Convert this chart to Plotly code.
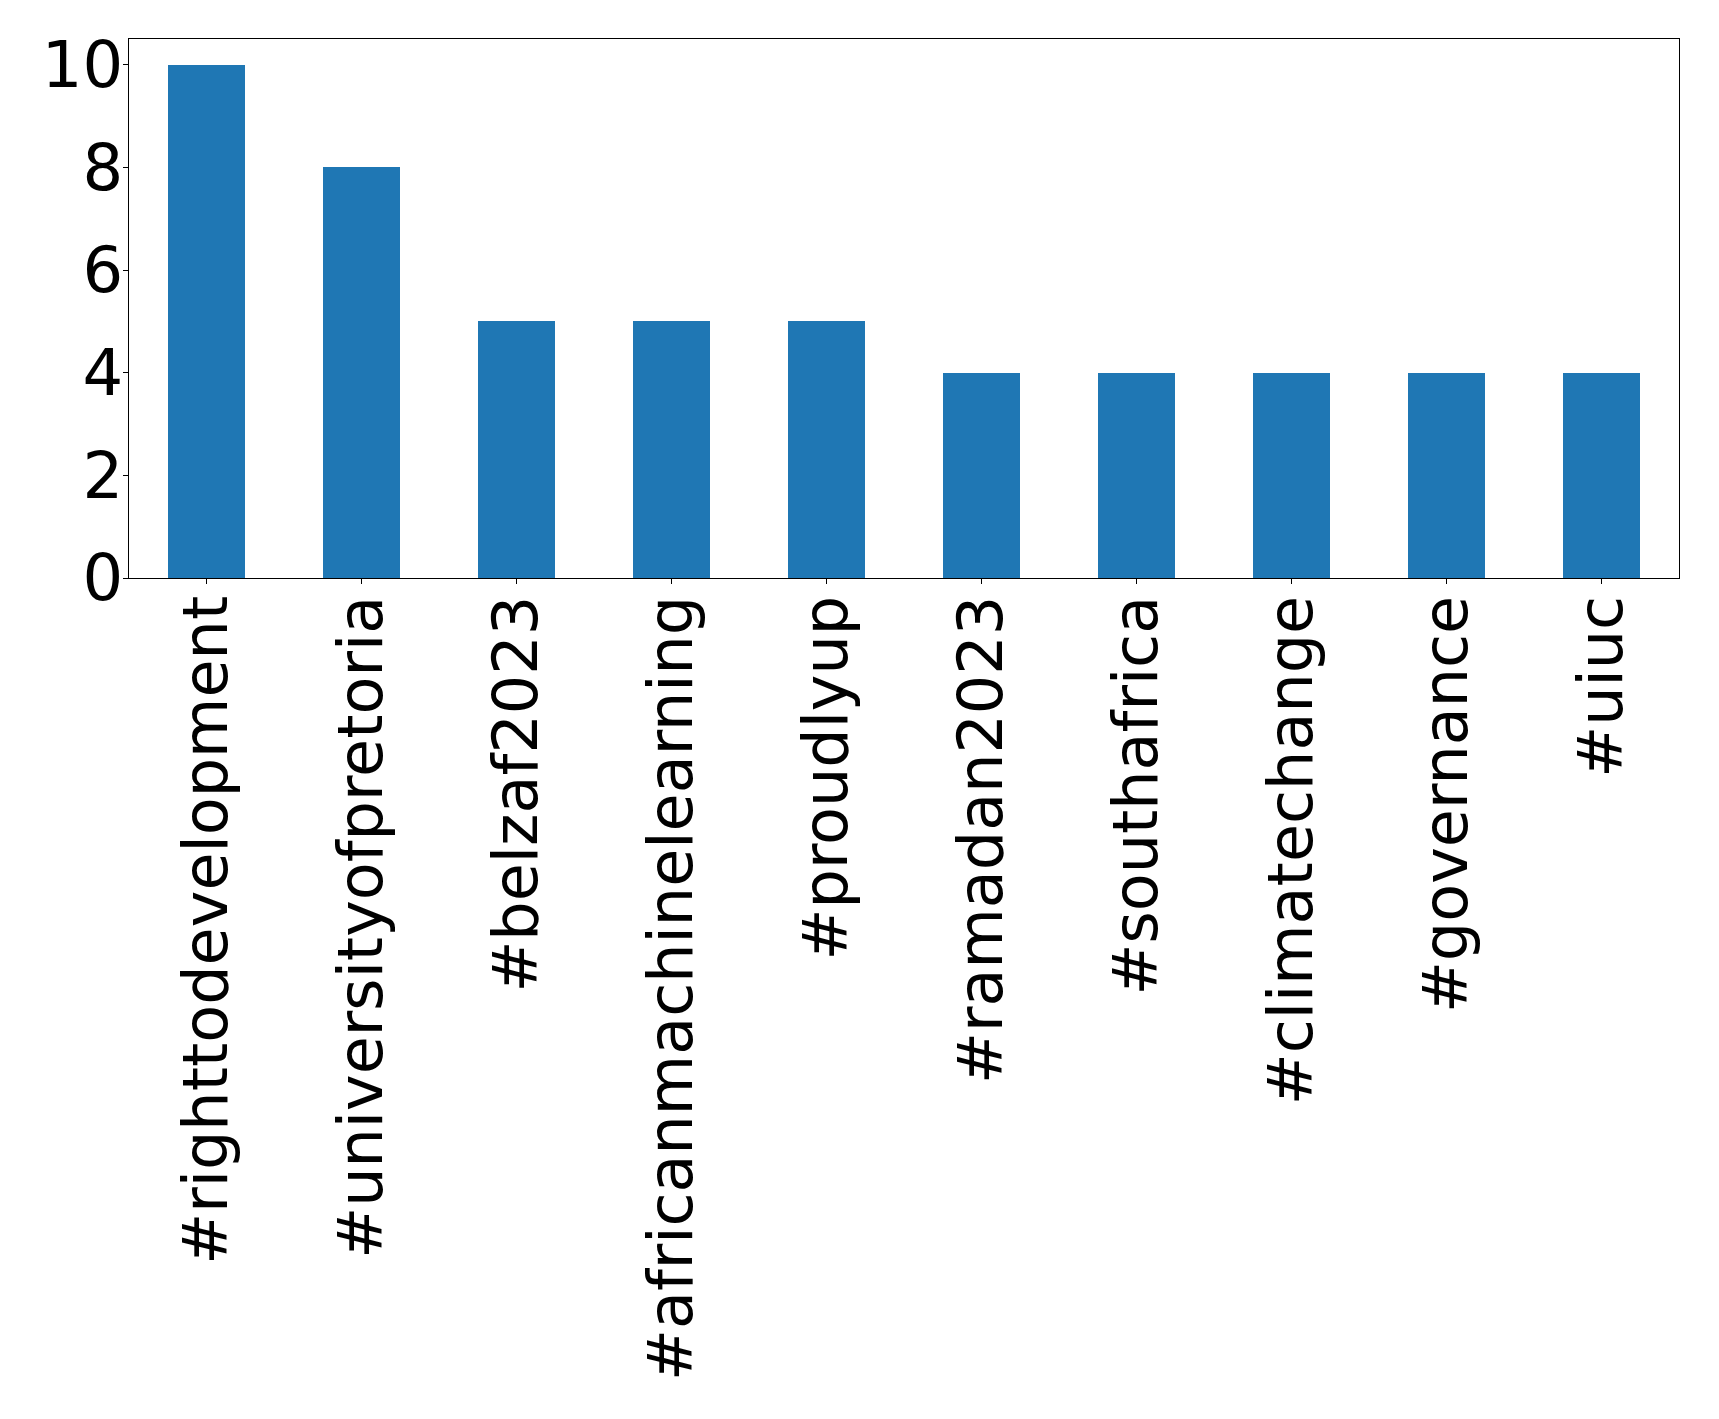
import plotly.graph_objects as go

categories = ["#righttodevelopment", "#universityofpretoria", "#belzaf2023",
              "#africanmachinelearning", "#proudlyup", "#ramadan2023",
              "#southafrica", "#climatechange", "#governance", "#uiuc"]
counts = [10, 8, 5, 5, 5, 4, 4, 4, 4, 4]

fig = go.Figure(go.Bar(x=list(range(len(categories))), y=counts, width=0.5,
                       marker=dict(color="#1f77b4", line=dict(width=0))))

W, H = 1719, 1419
fig.update_layout(
    width=W, height=H,
    margin=dict(l=121, r=48, t=31, b=849, pad=0),
    paper_bgcolor="white", plot_bgcolor="white",
    font=dict(family="DejaVu Sans", size=62, color="black"),
    showlegend=False,
    bargap=0,
)
fig.update_xaxes(
    tickmode="array", tickvals=list(range(len(categories))), ticktext=categories,
    tickangle=-90, range=[-0.5, 9.5], showgrid=False, zeroline=False,
    showline=True, linecolor="black", linewidth=1, mirror=True,
    ticks="outside", ticklen=5, tickcolor="black", tickfont=dict(size=62),
    ticklabelstandoff=-13, automargin=False,
)
fig.update_yaxes(
    range=[0, 10.5], tickvals=[0, 2, 4, 6, 8, 10], showgrid=False, zeroline=False,
    showline=True, linecolor="black", linewidth=1, mirror=True,
    ticks="outside", ticklen=5, tickcolor="black", tickfont=dict(size=64),
    ticklabelstandoff=-13, automargin=False,
)
fig.write_html("out.html")
